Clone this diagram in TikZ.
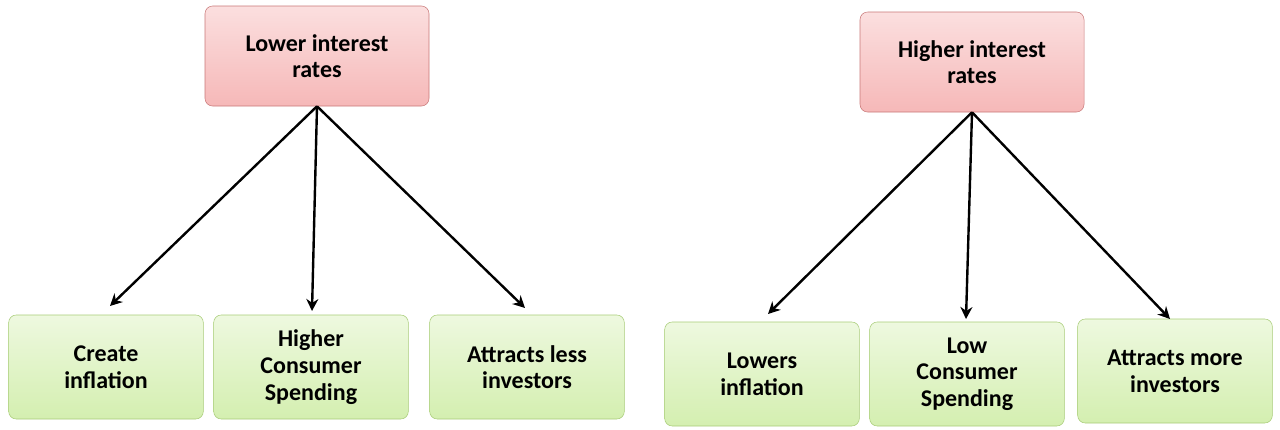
\documentclass[tikz,border=0pt]{standalone}
\usepackage{fontspec}
\setmainfont{Carlito}
\usetikzlibrary{arrows.meta,positioning}
\definecolor{topFill}{HTML}{F6B8B8}
\definecolor{topLine}{HTML}{C87878}
\definecolor{effFill}{HTML}{D4EFB0}
\definecolor{effLine}{HTML}{A8CC78}
\tikzset{
	cause/.style={draw=topLine, rounded corners=2mm, top color=topFill!45, bottom color=topFill,
		minimum width=168pt, minimum height=75pt, align=center, font=\fontsize{18}{20}\selectfont\bfseries},
	effect/.style={draw=effLine, rounded corners=2mm, top color=effFill!40, bottom color=effFill,
		minimum width=146pt, minimum height=78pt, align=center, font=\fontsize{18}{20}\selectfont\bfseries},
	link/.style={-{Stealth[length=9pt,width=9pt]}, line width=1.8pt}
}
\begin{document}
\begin{tikzpicture}[x=0.75pt,y=-0.75pt]
\useasboundingbox (0,0) rectangle (1280,429);
% left tree
\node[cause] (low) at (317,56) {Lower interest\\rates};
\node[effect] (l1) at (106,367) {Create\\inflation};
\node[effect] (l2) at (311,367) {Higher\\Consumer\\Spending};
\node[effect] (l3) at (527,367) {Attracts less\\investors};
% right tree
\node[cause] (high) at (972,62) {Higher interest\\rates};
\node[effect] (r1) at (762,374) {Lowers\\inflation};
\node[effect] (r2) at (967,374) {Low\\Consumer\\Spending};
\node[effect] (r3) at (1175,371) {Attracts more\\investors};
\draw[link] (low.south) -- (110,306);
\draw[link] (low.south) -- (312,311);
\draw[link] (low.south) -- (525,308);
\draw[link] (high.south) -- (768,314);
\draw[link] (high.south) -- (966,319);
\draw[link] (high.south) -- (1170,319);
\end{tikzpicture}
\end{document}
